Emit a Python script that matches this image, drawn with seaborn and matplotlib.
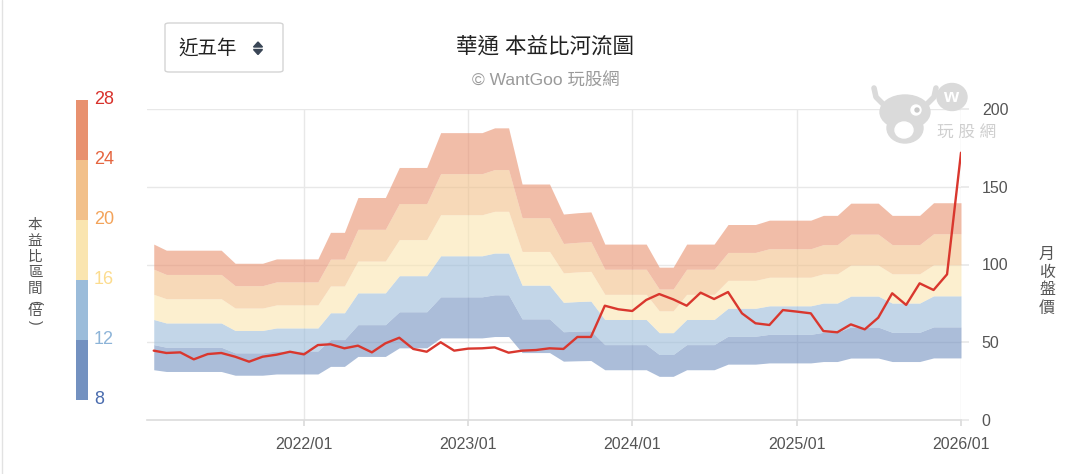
import pandas as pd
import matplotlib
matplotlib.use("Agg")
import matplotlib.pyplot as plt
from matplotlib.patches import FancyBboxPatch, Ellipse, Polygon
from matplotlib.lines import Line2D
import seaborn as sns

# monthly data, 2021/02 .. 2026/01
months = pd.date_range("2021-02-01", periods=60, freq="MS")

price = [44.6, 43.1, 43.5, 39.0, 42.4, 43.1, 40.7, 37.5, 40.7, 42.0,
         43.9, 42.2, 48.2, 48.7, 46.1, 47.8, 43.5, 49.3, 52.9, 45.7,
         43.9, 50.0, 44.6, 45.9, 46.1, 46.7, 43.3, 44.6, 45.0, 46.1,
         45.7, 53.4, 53.4, 73.5, 71.2, 70.1, 77.2, 81.0, 77.6, 73.5,
         81.9, 77.8, 82.3, 68.6, 62.2, 61.1, 70.7, 69.7, 68.6, 57.2,
         56.4, 61.5, 58.3, 65.8, 81.5, 74.0, 87.9, 83.6, 93.7, 171.9]

# trailing EPS used for the P/E bands
eps = [4.04, 3.90, 3.90, 3.90, 3.90, 3.90, 3.60, 3.60, 3.60, 3.70,
       3.70, 3.70, 3.70, 4.31, 4.31, 5.11, 5.11, 5.11, 5.80, 5.80,
       5.80, 6.60, 6.60, 6.60, 6.60, 6.71, 6.71, 5.42, 5.42, 5.42,
       4.73, 4.76, 4.78, 4.04, 4.04, 4.04, 4.04, 3.51, 3.51, 4.04,
       4.04, 4.04, 4.49, 4.49, 4.49, 4.59, 4.59, 4.59, 4.59, 4.70,
       4.70, 4.98, 4.98, 4.98, 4.70, 4.70, 4.70, 4.99, 4.99, 4.99]

pe_levels = [8, 12, 16, 20, 24, 28]
band_colors = ["#7391c0", "#9bbcda", "#fae5b0", "#f2c08a", "#e8916f"]
label_colors = ["#4a6cae", "#8db4d8", "#fcdc8e", "#f3a35a", "#e5653f", "#d8312b"]
year_ticks = ["2022-01-01", "2023-01-01", "2024-01-01", "2025-01-01", "2026-01-01"]
year_labels = ["2022/01", "2023/01", "2024/01", "2025/01", "2026/01"]
right_ticks = [0, 50, 100, 150, 200]

sns.set_theme(style="white")
plt.rcParams["font.family"] = ["Liberation Sans", "Noto Sans CJK TC", "DejaVu Sans"]

W, H = 1074, 474
fig = plt.figure(figsize=(W / 100, H / 100), dpi=100)


def fx(px):
    return px / W


def fy(py):
    return 1 - py / H


ax = fig.add_axes([fx(147), fy(420), fx(961) - fx(147), fy(109) - fy(420)])

df = pd.DataFrame({"month": months, "price": price, "eps": eps})
for i in range(len(pe_levels) - 1):
    lo = df["eps"] * pe_levels[i]
    hi = df["eps"] * pe_levels[i + 1]
    ax.fill_between(df["month"], lo, hi, color=band_colors[i], alpha=0.6,
                    linewidth=0, zorder=2)

sns.lineplot(data=df, x="month", y="price", ax=ax, color="#d9372e",
             linewidth=1.7, zorder=3)

ax.set_xlim(pd.Timestamp("2021-01-17"), pd.Timestamp("2026-01-01"))
ax.set_ylim(0, 200)
ax.set_xticks(pd.to_datetime(year_ticks))
ax.set_xticklabels(year_labels)
ax.yaxis.tick_right()
ax.set_yticks(right_ticks)
ax.set_xlabel("")
ax.set_ylabel("")
ax.set_axisbelow(True)
ax.grid(True, color="#e8e8e8", linewidth=1)
for s in ["top", "left", "right"]:
    ax.spines[s].set_visible(False)
ax.spines["bottom"].set_color("#dcdcdc")
ax.spines["bottom"].set_linewidth(1.2)
ax.tick_params(axis="x", length=4, color="#dcdcdc", pad=8, labelsize=11.5,
               labelcolor="#555555", bottom=True)
ax.tick_params(axis="y", length=6, color="#e8e8e8", pad=9, labelsize=11.5,
               labelcolor="#555555", right=True, left=False)

# colour scale on the left
cax = fig.add_axes([fx(76), fy(400), fx(88) - fx(76), fy(100) - fy(400)])
cax.bar(0, [4] * 5, bottom=pe_levels[:-1], width=1, color=band_colors,
        linewidth=0)
cax.set_xlim(-0.5, 0.5)
cax.set_ylim(8, 28)
cax.axis("off")
for lvl, c in zip(pe_levels, label_colors):
    fig.text(fx(94), fy(400 - (lvl - 8) * 15), str(lvl), color=c,
             fontsize=13, ha="left", va="center")

# vertical axis titles, one character per row
for k, ch in enumerate("本益比區間"):
    fig.text(fx(35), fy(225 + 16 * k), ch, fontsize=10.5, color="#555555",
             ha="center", va="center")
fig.text(fx(35), fy(302), "(", fontsize=10, color="#555555", rotation=-90,
         ha="center", va="center")
fig.text(fx(35), fy(311), "倍", fontsize=10.5, color="#555555",
         ha="center", va="center")
fig.text(fx(35), fy(322), ")", fontsize=10, color="#555555", rotation=-90,
         ha="center", va="center")
for k, ch in enumerate("月收盤價"):
    fig.text(fx(1047), fy(254 + 18 * k), ch, fontsize=11.5, color="#555555",
             ha="center", va="center")

# title
fig.text(fx(545), fy(47), "華通 本益比河流圖", fontsize=15.5, color="#222222",
         ha="center", va="center")
fig.text(fx(546), fy(80), "© WantGoo 玩股網", fontsize=12.5, color="#9a9a9a",
         ha="center", va="center")

# range selector box
box = FancyBboxPatch((fx(165), fy(72)), fx(283) - fx(165), fy(23) - fy(72),
                     boxstyle="round,pad=0,rounding_size=0.004",
                     transform=fig.transFigure, facecolor="white",
                     edgecolor="#d4d4d4", linewidth=1)
fig.add_artist(box)
fig.text(fx(178), fy(48), "近五年", fontsize=14, color="#222222",
         ha="left", va="center")
arrow_c = "#3a4656"
fig.add_artist(Polygon([(fx(253.5), fy(47)), (fx(262.5), fy(47)), (fx(258), fy(42))],
                       closed=True, color=arrow_c, transform=fig.transFigure))
fig.add_artist(Polygon([(fx(253.5), fy(49.5)), (fx(262.5), fy(49.5)), (fx(258), fy(54.5))],
                       closed=True, color=arrow_c, transform=fig.transFigure))

# watermark
wm = "#dadada"
wz = 6


def blob(cx, cy, w, h, color):
    fig.add_artist(Ellipse((fx(cx), fy(cy)), w / W, h / H,
                           transform=fig.transFigure, color=color, zorder=wz))


blob(905, 112, 50, 34, wm)
blob(905, 128, 36, 30, wm)
fig.add_artist(Line2D([fx(883), fx(876), fx(874)], [fy(104), fy(97), fy(88)],
                      color=wm, linewidth=4, solid_capstyle="round",
                      transform=fig.transFigure, zorder=wz))
fig.add_artist(Line2D([fx(927), fx(934), fx(936)], [fy(104), fy(97), fy(88)],
                      color=wm, linewidth=4, solid_capstyle="round",
                      transform=fig.transFigure, zorder=wz))
blob(904, 130, 18, 16, "white")
blob(916, 110, 10, 10, "white")
blob(917, 110, 4, 4, "#c8c8c8")
blob(952, 97, 30, 27, wm)
fig.text(fx(951), fy(97), "w", fontsize=14, color="white", fontweight="bold",
         ha="center", va="center", zorder=wz + 1)
fig.text(fx(967), fy(132), "玩 股 網", fontsize=12, color="#cfcfcf",
         ha="center", va="center", zorder=wz + 1)

# left card border
fig.add_artist(Line2D([fx(2), fx(2)], [0, 1], color="#e2e2e2", linewidth=1,
                      transform=fig.transFigure))

plt.savefig("out.png", dpi=100)
